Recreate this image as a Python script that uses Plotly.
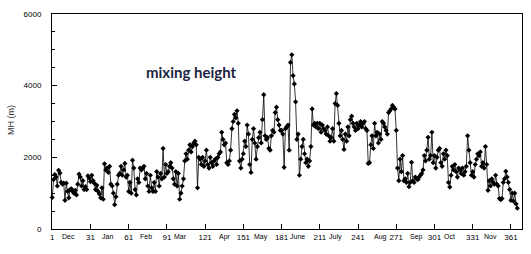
import plotly.graph_objects as go

# Daily mixing height (m), day 1 .. 366
mh_values = [
    880, 1380, 1520, 1450, 1200, 1640, 1560, 1300, 1250, 1280,
    800, 1280, 1050, 870, 1100, 1120, 1050, 1000, 1080, 950,
    1250, 1530, 1450, 1200, 1350, 1100, 1180, 1100, 1480, 1420,
    1320, 1500, 1350, 1280, 1100, 1220, 1050, 980, 870, 1150,
    830, 1820, 1650, 1700, 1580, 1750, 1250, 1200, 1000, 680,
    900, 1250, 1500, 1550, 1750, 1500, 1650, 1830, 1450, 1500,
    1050, 1300, 1000, 1920, 1700, 1100, 950, 1400, 1300, 1700,
    1650, 1700, 1750, 1400, 1550, 1200, 1050, 1500, 1150, 1050,
    1300, 1050, 1600, 1450, 1200, 1550, 1400, 2250, 1450, 1800,
    1550, 1600, 1750, 1850, 1700, 1400, 1250, 1600, 1200, 1550,
    830, 1000, 1200, 1400, 1900, 2100, 1950, 2200, 2350, 2150,
    2300, 2400, 2450, 2350, 1150, 2000, 1950, 1800, 2000, 1750,
    1900, 2200, 1800, 1700, 2000, 1850, 1750, 1900, 1950, 1800,
    2000, 2100, 2150, 2700, 2500, 2350, 2400, 1850, 1800, 1900,
    2200, 2800, 3000, 3200, 3100, 3300, 2950, 1900, 1700, 1950,
    2100, 2450, 2300, 2900, 2650, 1800, 1580, 2500, 2800, 2400,
    1950, 2300, 2550, 2700, 2400, 3050, 3750, 2600, 2500, 2550,
    2250, 2200, 2600, 2750, 2700, 3250, 3400, 3050, 2900, 2750,
    2750, 2650, 1720, 2800, 2850, 2900, 2200, 4650, 4860, 4280,
    4050, 3550, 2500, 2650, 1500, 1950, 2300, 2500, 2100, 1850,
    1950, 1750, 1900, 2300, 3350, 2900, 2950, 2850, 2950, 2800,
    2950, 2700, 2900, 2800, 2750, 2650, 2850, 2600, 2450, 2550,
    2800, 2450, 3500, 3780, 3450, 2950, 2600, 2750, 2500, 2220,
    2650, 2450, 2850, 2600, 3050, 3150, 2950, 2850, 2750, 2950,
    2800, 2900, 3000, 2850, 2950, 3000, 2800, 2750, 1830, 1850,
    2350, 2600, 2250, 2950, 2600, 2700, 2400, 2650, 2500, 3000,
    2950, 2850, 2750, 2650, 3250, 3300, 3350, 3450, 3400, 3350,
    2750, 1700, 1350, 1950, 1600, 2050, 1350, 1400, 1300, 1550,
    1180, 1300, 1860, 1350, 1300, 1450, 1400, 1380, 1450, 1500,
    1550, 1650, 2050, 1900, 2200, 2560, 1950, 2050, 2700, 1850,
    2050, 1700, 2000, 2200, 2250, 1850, 1750, 2100, 1950, 2200,
    2050, 1300, 1170, 1500, 1750, 1650, 1800, 1600, 1450, 1700,
    1650, 1550, 1700, 1500, 1600, 1750, 2600, 2200, 1850, 1500,
    1600, 1450, 1800, 1950, 2100, 2050, 2150, 1750, 1850, 1700,
    2300, 1800, 1080, 1350, 1200, 1400, 1300, 1250, 1500, 1250,
    1200, 850, 820, 850, 1300, 1400, 1610, 1450, 1300, 1100,
    800, 1000, 780, 1000, 700, 580,
]
days = list(range(1, len(mh_values) + 1))

x_tick_vals = [1, 31, 61, 91, 121, 151, 181, 211, 241, 271, 301, 331, 361]
x_tick_text = [str(v) for v in x_tick_vals]
month_labels = ["Dec", "Jan", "Feb", "Mar", "Apr", "May", "June", "July",
                "Aug", "Sep", "Oct", "Nov"]
month_days = [13.4, 44, 74.6, 102, 136.6, 164.8, 193.5, 223.7, 259, 287, 313, 344.6]
y_tick_vals = [0, 2000, 4000, 6000]

fig = go.Figure()
fig.add_trace(go.Scatter(
    x=days, y=mh_values, mode="lines+markers",
    line=dict(color="black", width=0.8),
    marker=dict(symbol="diamond", size=4, color="black"),
    showlegend=False, cliponaxis=False, hoverinfo="skip",
))

annotations = []
for lab, d in zip(month_labels, month_days):
    annotations.append(dict(
        x=d, y=-0.035, xref="x", yref="paper", text=lab, showarrow=False,
        font=dict(family="Liberation Sans, Arial", size=7, color="black"),
        xanchor="center", yanchor="middle",
    ))
annotations.append(dict(
    x=-0.087, y=0.507, xref="paper", yref="paper", text="MH (m)",
    showarrow=False, textangle=-90,
    font=dict(family="Liberation Sans, Arial", size=9, color="#333333"),
    xanchor="center", yanchor="middle",
))
annotations.append(dict(
    x=109.9, y=4381, xref="x", yref="y", text="<b>mixing height</b>",
    showarrow=False,
    font=dict(family="Lato, Open Sans", size=15, color="#1b2440"),
    xanchor="center", yanchor="middle",
))

fig.update_layout(
    width=531, height=254,
    margin=dict(l=52, r=9, t=14, b=25),
    paper_bgcolor="white", plot_bgcolor="white",
    annotations=annotations,
    hovermode=False,
    xaxis=dict(
        range=[0.8, 369.7], tickmode="array", tickvals=x_tick_vals,
        ticktext=x_tick_text, ticks="inside", ticklen=5, tickcolor="black",
        showline=True, linecolor="black", linewidth=1, mirror=True,
        showgrid=False, zeroline=False,
        tickfont=dict(family="Liberation Sans, Arial", size=8, color="black"),
    ),
    yaxis=dict(
        range=[0, 6000], tickmode="array", tickvals=y_tick_vals,
        ticks="inside", ticklen=5, tickcolor="black",
        minor=dict(dtick=500, ticks="inside", ticklen=3, tickcolor="black"),
        showline=True, linecolor="black", linewidth=1, mirror=True,
        showgrid=False, zeroline=False, ticklabelstandoff=8,
        tickfont=dict(family="Liberation Sans, Arial", size=8, color="black"),
    ),
)

fig.write_html("out.html", config={"displayModeBar": False},
               post_script="document.body.style.margin='0';")
